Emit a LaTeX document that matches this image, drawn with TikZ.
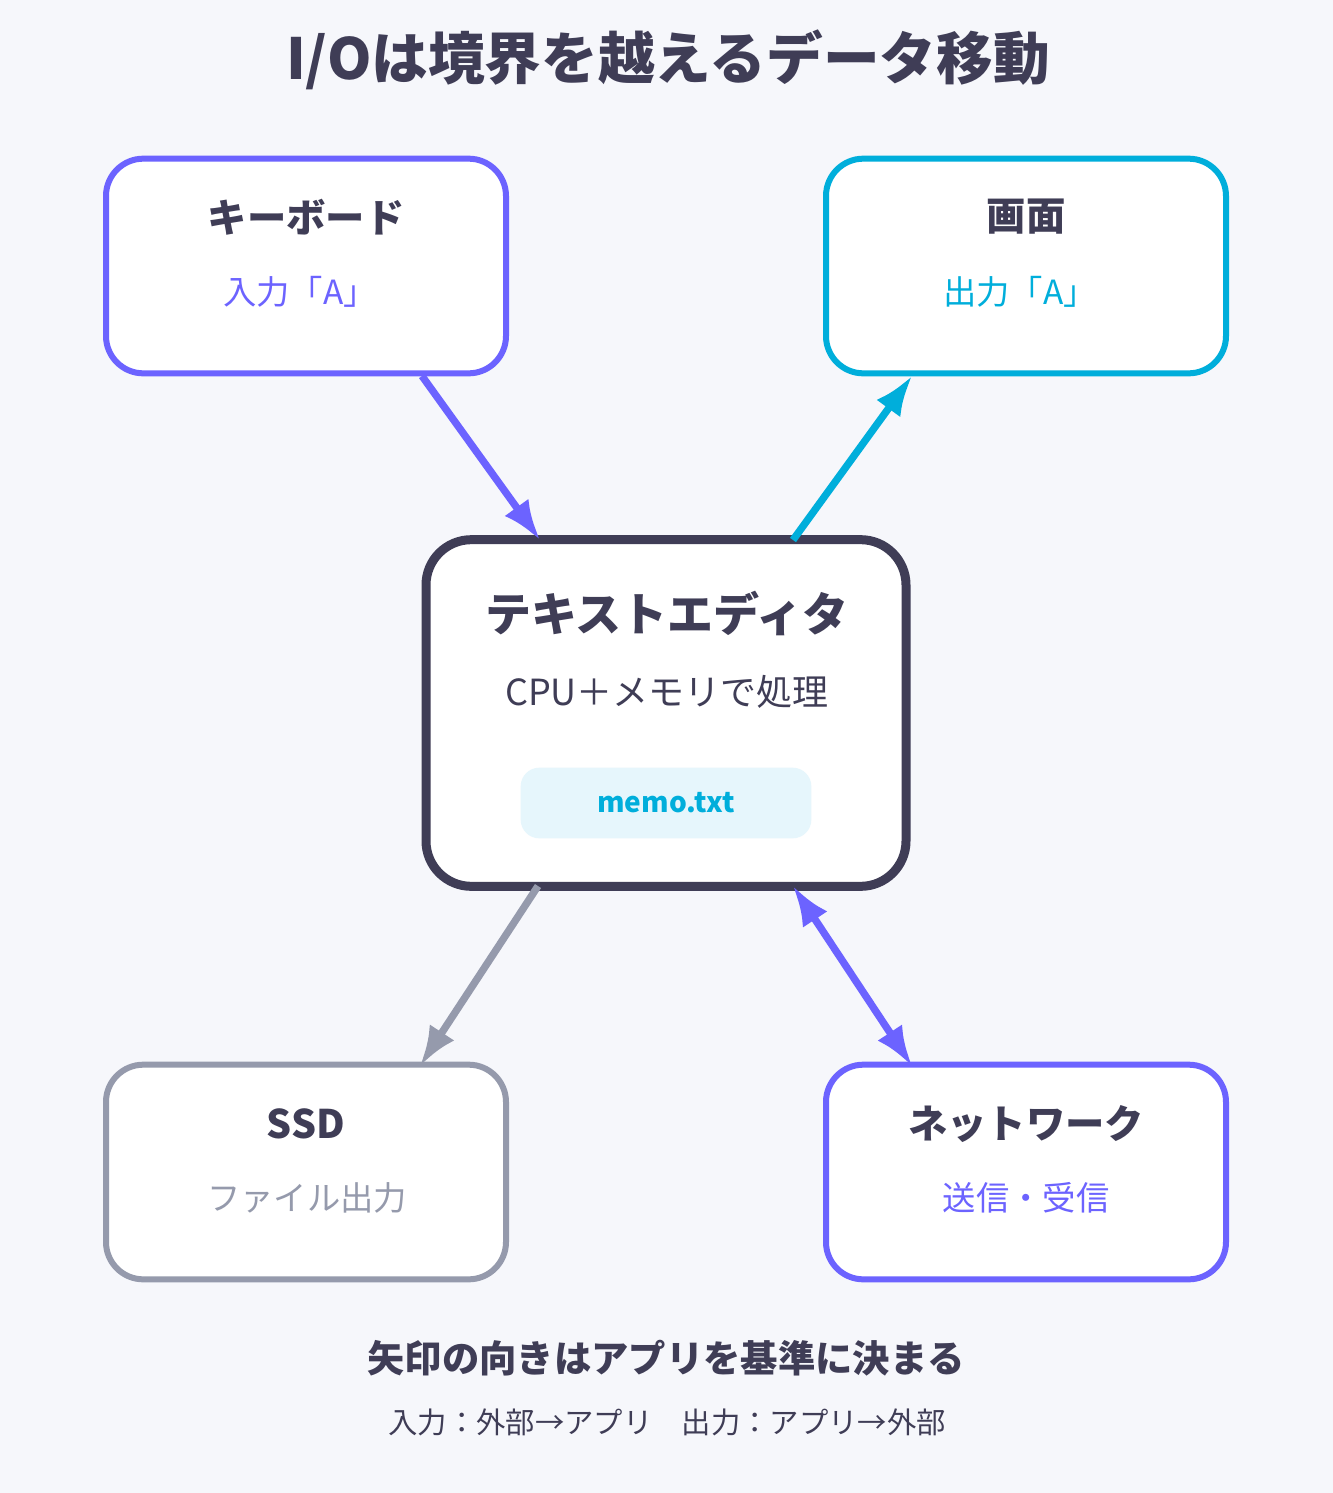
\documentclass[tikz,border=0pt]{standalone}
\usepackage{fontspec}
\setmainfont{Noto Sans CJK JP}
\usetikzlibrary{arrows.meta}
\definecolor{bg}{HTML}{F6F7FB}
\definecolor{ink}{HTML}{3F3D56}
\definecolor{violet}{HTML}{6C63FF}
\definecolor{aqua}{HTML}{00AEDB}
\definecolor{slate}{HTML}{959AAC}
\definecolor{pill}{HTML}{E6F6FC}
\tikzstyle{device}=[
        draw, line width=4.5pt, fill=white, rounded corners=28pt,
        minimum width=300pt, minimum height=161pt
]
\tikzstyle{flow}=[
        line width=5.5pt, -{Latex[length=30pt,width=22pt]}
]
\begin{document}
\begin{tikzpicture}[x=0.75pt,y=-0.75pt]
                    \fill[bg] (0,0) rectangle (1333,1493);
                    \node[font=\fontsize{42.5}{46}\selectfont\bfseries,text=ink] (title) at (668,60) {I/Oは境界を越えるデータ移動};

                    \node[device,draw=violet] (kb) at (306,266) {};
                    \node[device,draw=aqua] (scr) at (1026,266) {};
                    \node[device,draw=slate] (ssd) at (306,1172) {};
                    \node[device,draw=violet] (net) at (1026,1172) {};
                    \node[draw=ink,line width=6.75pt,fill=white,rounded corners=34pt,
                          minimum width=360pt,minimum height=260pt] (ed) at (666,713) {};

                    \node[font=\fontsize{29.5}{32}\selectfont\bfseries,text=ink] at (306,217) {キーボード};
                    \node[font=\fontsize{25}{28}\selectfont,text=violet] at (300,292) {入力「A」};
                    \node[font=\fontsize{29.5}{32}\selectfont\bfseries,text=ink] at (1026,217) {画面};
                    \node[font=\fontsize{25}{28}\selectfont,text=aqua] at (1020,292) {出力「A」};
                    \node[font=\fontsize{29.5}{32}\selectfont\bfseries,text=ink] at (306,1124) {SSD};
                    \node[font=\fontsize{25}{28}\selectfont,text=slate] at (307,1198) {ファイル出力};
                    \node[font=\fontsize{29.5}{32}\selectfont\bfseries,text=ink] at (1026,1124) {ネットワーク};
                    \node[font=\fontsize{25}{28}\selectfont,text=violet] at (1026,1198) {送信・受信};

                    \node[font=\fontsize{34.5}{38}\selectfont\bfseries,text=ink] at (667,613) {テキストエディタ};
                    \node[font=\fontsize{27}{30}\selectfont,text=ink] at (667,692) {CPU＋メモリで処理};
                    \node[fill=pill,rounded corners=14pt,minimum width=218pt,minimum height=53pt,
                          font=\fontsize{21}{24}\selectfont\bfseries,text=aqua] (memo) at (666,803) {memo.txt};

                    \node[font=\fontsize{28}{31}\selectfont\bfseries,text=ink] at (666,1358) {矢印の向きはアプリを基準に決まる};
                    \node[font=\fontsize{22}{26}\selectfont,text=ink] at (667,1422) {入力：外部→アプリ\quad 出力：アプリ→外部};

                    % arrow ends
                    \coordinate (kbout) at (422,376);
                    \coordinate (edin) at (540,540);
                    \coordinate (edout) at (793,540);
                    \coordinate (scrin) at (912,376);
                    \coordinate (edssd) at (538,886);
                    \coordinate (ssdin) at (420,1066);
                    \coordinate (ednet) at (793,886);
                    \coordinate (netin) at (912,1066);

                    \draw[flow,violet] (kbout) -- (edin);
                    \draw[flow,aqua] (edout) -- (scrin);
                    \draw[flow,slate] (edssd) -- (ssdin);
                    \draw[flow,violet,{Latex[length=30pt,width=22pt]}-{Latex[length=30pt,width=22pt]}] (ednet) -- (netin);
                \end{tikzpicture}
\end{document}
